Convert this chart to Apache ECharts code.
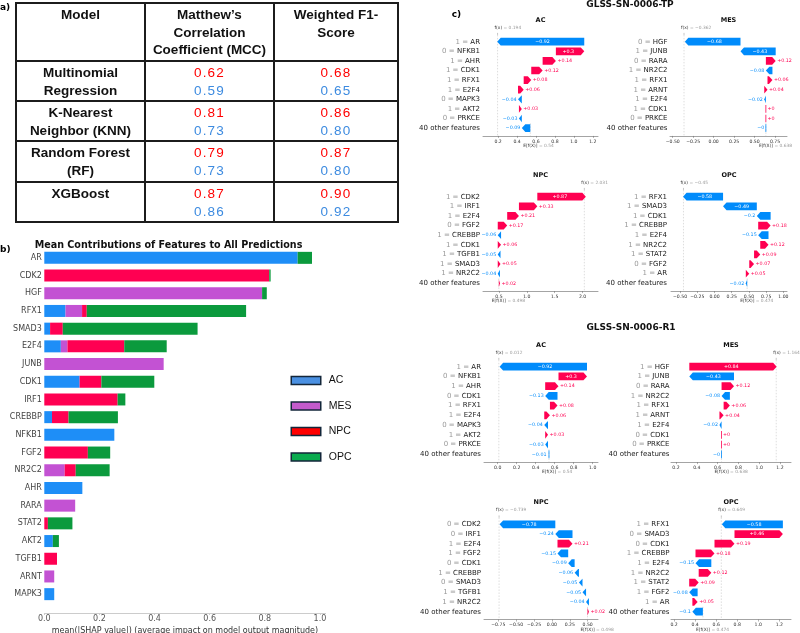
<!DOCTYPE html>
<html>
<head>
<meta charset="utf-8">
<script src="https://cdn.jsdelivr.net/npm/echarts@6/dist/echarts.min.js"></script>
<style>
html, body { margin: 0; padding: 0; background: #fff; }
#chart { position: absolute; left: 0; top: 0; width: 800px; height: 633px; }
#tbl { position: absolute; left: 15px; top: 2px; border-collapse: collapse; table-layout: fixed;
  font-family: "Liberation Sans", Arial, sans-serif; font-size: 13.5px; line-height: 17.5px; color: #111; }
#tbl td { border: 2px solid #1c1c1c; text-align: center; vertical-align: top; padding: 2px 2px 0 2px; }
#tbl .b { font-weight: bold; }
#tbl .r { color: #ff0000; letter-spacing: 1.2px; }
#tbl .u { color: #3d8be0; letter-spacing: 1.2px; }
</style>
</head>
<body>
<div id="chart"></div>
<table id="tbl"></table>
<script>
// ---- panel a: model scores (red / blue rows) ----
const models = [['Multinomial', 'Regression'], ['K-Nearest', 'Neighbor (KNN)'], ['Random Forest', '(RF)'], ['XGBoost']];
const mccRed = [0.62, 0.81, 0.79, 0.87];
const mccBlue = [0.59, 0.73, 0.73, 0.86];
const f1Red = [0.68, 0.86, 0.87, 0.90];
const f1Blue = [0.65, 0.80, 0.80, 0.92];

// ---- panel b: mean |SHAP| per class ----
const featNames = ['AR', 'CDK2', 'HGF', 'RFX1', 'SMAD3', 'E2F4', 'JUNB', 'CDK1', 'IRF1', 'CREBBP',
  'NFKB1', 'FGF2', 'NR2C2', 'AHR', 'RARA', 'STAT2', 'AKT2', 'TGFB1', 'ARNT', 'MAPK3'];
const acMean  = [0.919, 0, 0, 0.077, 0.021, 0.060, 0, 0.128, 0, 0.028, 0.254, 0, 0, 0.138, 0, 0, 0.031, 0, 0, 0.036];
const mesMean = [0, 0, 0.790, 0.060, 0, 0.024, 0.433, 0, 0, 0, 0, 0, 0.074, 0, 0.112, 0, 0, 0, 0.036, 0];
const npcMean = [0, 0.816, 0, 0.017, 0.046, 0.206, 0, 0.079, 0.266, 0.060, 0, 0.158, 0.040, 0, 0, 0.013, 0, 0.046, 0, 0];
const opcMean = [0.052, 0.005, 0.017, 0.578, 0.489, 0.154, 0, 0.192, 0.028, 0.179, 0, 0.081, 0.123, 0, 0, 0.089, 0.022, 0, 0, 0];
const bTicks = [0, 0.2, 0.4, 0.6, 0.8, 1.0];

// ---- panel c: waterfall plots ----
const tpAcNames = ['AR', 'NFKB1', 'AHR', 'CDK1', 'RFX1', 'E2F4', 'MAPK3', 'AKT2', 'PRKCE', '40 other features'];
const tpAcVals = ['1', '0', '1', '1', '1', '1', '0', '1', '0', ''];
const tpAcShap = [-0.92, 0.3, 0.14, 0.12, 0.08, 0.06, -0.04, 0.03, -0.03, -0.09];
const tpAcBase = 0.54, tpAcFx = 0.194;
const tpAcTicks = [0.2, 0.4, 0.6, 0.8, 1.0, 1.2];

const tpMesNames = ['HGF', 'JUNB', 'RARA', 'NR2C2', 'RFX1', 'ARNT', 'E2F4', 'CDK1', 'PRKCE', '40 other features'];
const tpMesVals = ['0', '1', '0', '1', '1', '1', '1', '1', '0', ''];
const tpMesShap = [-0.68, -0.43, 0.12, -0.08, 0.06, 0.04, -0.02, 0, 0, -0];
const tpMesBase = 0.638, tpMesFx = -0.362;
const tpMesTicks = [-0.5, -0.25, 0, 0.25, 0.5, 0.75];

const tpNpcNames = ['CDK2', 'IRF1', 'E2F4', 'FGF2', 'CREBBP', 'CDK1', 'TGFB1', 'SMAD3', 'NR2C2', '40 other features'];
const tpNpcVals = ['1', '1', '1', '0', '1', '1', '1', '1', '1', ''];
const tpNpcShap = [0.87, 0.33, 0.21, 0.17, -0.06, 0.06, -0.05, 0.05, -0.04, 0.02];
const tpNpcBase = 0.498, tpNpcFx = 2.031;
const tpNpcTicks = [0.5, 1.0, 1.5, 2.0];

const tpOpcNames = ['RFX1', 'SMAD3', 'CDK1', 'CREBBP', 'E2F4', 'NR2C2', 'STAT2', 'FGF2', 'AR', '40 other features'];
const tpOpcVals = ['1', '1', '1', '1', '1', '1', '1', '0', '1', ''];
const tpOpcShap = [-0.58, -0.49, -0.2, 0.18, -0.15, 0.12, 0.09, 0.07, 0.05, -0.02];
const tpOpcBase = 0.474, tpOpcFx = -0.45;
const tpOpcTicks = [-0.5, -0.25, 0, 0.25, 0.5, 0.75, 1.0];

const r1AcNames = ['AR', 'NFKB1', 'AHR', 'CDK1', 'RFX1', 'E2F4', 'MAPK3', 'AKT2', 'PRKCE', '40 other features'];
const r1AcVals = ['1', '0', '1', '0', '1', '1', '0', '1', '0', ''];
const r1AcShap = [-0.92, 0.3, 0.14, -0.13, 0.08, 0.06, -0.04, 0.03, -0.03, -0.01];
const r1AcBase = 0.54, r1AcFx = 0.012;
const r1AcTicks = [0, 0.2, 0.4, 0.6, 0.8, 1.0];

const r1MesNames = ['HGF', 'JUNB', 'RARA', 'NR2C2', 'RFX1', 'ARNT', 'E2F4', 'CDK1', 'PRKCE', '40 other features'];
const r1MesVals = ['1', '1', '0', '1', '1', '1', '1', '0', '0', ''];
const r1MesShap = [0.84, -0.43, 0.12, -0.08, 0.06, 0.04, -0.02, 0, 0, -0];
const r1MesBase = 0.638, r1MesFx = 1.164;
const r1MesTicks = [0.2, 0.4, 0.6, 0.8, 1.0, 1.2];

const r1NpcNames = ['CDK2', 'IRF1', 'E2F4', 'FGF2', 'CDK1', 'CREBBP', 'SMAD3', 'TGFB1', 'NR2C2', '40 other features'];
const r1NpcVals = ['0', '0', '1', '1', '0', '1', '0', '1', '1', ''];
const r1NpcShap = [-0.78, -0.24, 0.21, -0.15, -0.09, -0.06, -0.05, -0.05, -0.04, 0.02];
const r1NpcBase = 0.498, r1NpcFx = -0.739;
const r1NpcTicks = [-0.75, -0.5, -0.25, 0, 0.25, 0.5];

const r1OpcNames = ['RFX1', 'SMAD3', 'CDK1', 'CREBBP', 'E2F4', 'NR2C2', 'STAT2', 'FGF2', 'AR', '40 other features'];
const r1OpcVals = ['1', '0', '0', '1', '1', '1', '1', '1', '1', ''];
const r1OpcShap = [-0.58, 0.46, 0.19, 0.18, -0.15, 0.12, 0.09, -0.08, 0.05, -0.1];
const r1OpcBase = 0.474, r1OpcFx = 0.649;
const r1OpcTicks = [0.2, 0.4, 0.6, 0.8, 1.0, 1.2];

const subTitles = ['AC', 'MES', 'NPC', 'OPC', 'AC', 'MES', 'NPC', 'OPC'];

// build the table
(function () {
  let h = '<colgroup><col style="width:129px"><col style="width:129px"><col style="width:124px"></colgroup>';
  h += '<tr style="height:58px"><td class="b">Model</td><td class="b">Matthew’s<br>Correlation<br>Coefficient (MCC)</td><td class="b">Weighted F1-<br>Score</td></tr>';
  const rowH = [40, 40, 41, 40];
  for (let i = 0; i < models.length; i++) {
    h += '<tr style="height:' + rowH[i] + 'px"><td class="b">' + models[i].join('<br>') + '</td>' +
      '<td><span class="r">' + mccRed[i].toFixed(2) + '</span><br><span class="u">' + mccBlue[i].toFixed(2) + '</span></td>' +
      '<td><span class="r">' + f1Red[i].toFixed(2) + '</span><br><span class="u">' + f1Blue[i].toFixed(2) + '</span></td></tr>';
  }
  document.getElementById('tbl').innerHTML = h;
})();

const RED = '#ff0051', BLUE = '#008bfb';
const DV = 'DejaVu Sans';
const HEAD = 3.5, VAL_FS = 4.8, AXIS_OFF = 3;

const wfPanels = [
  { names: tpAcNames, vals: tpAcVals, shap: tpAcShap, base: tpAcBase, fx: tpAcFx, ticks: tpAcTicks, dec: 1 },
  { names: tpMesNames, vals: tpMesVals, shap: tpMesShap, base: tpMesBase, fx: tpMesFx, ticks: tpMesTicks, dec: 2 },
  { names: tpNpcNames, vals: tpNpcVals, shap: tpNpcShap, base: tpNpcBase, fx: tpNpcFx, ticks: tpNpcTicks, dec: 1 },
  { names: tpOpcNames, vals: tpOpcVals, shap: tpOpcShap, base: tpOpcBase, fx: tpOpcFx, ticks: tpOpcTicks, dec: 2 },
  { names: r1AcNames, vals: r1AcVals, shap: r1AcShap, base: r1AcBase, fx: r1AcFx, ticks: r1AcTicks, dec: 1 },
  { names: r1MesNames, vals: r1MesVals, shap: r1MesShap, base: r1MesBase, fx: r1MesFx, ticks: r1MesTicks, dec: 1 },
  { names: r1NpcNames, vals: r1NpcVals, shap: r1NpcShap, base: r1NpcBase, fx: r1NpcFx, ticks: r1NpcTicks, dec: 2 },
  { names: r1OpcNames, vals: r1OpcVals, shap: r1OpcShap, base: r1OpcBase, fx: r1OpcFx, ticks: r1OpcTicks, dec: 1 }
];
// where each waterfall sits on the page (px) and its x range
const wfLayout = [
  { x0: 483, x1: 598, min: 0.04, max: 1.255, y0: 41.7, band: 9.6, lx: 480 },
  { x0: 670, x1: 787, min: -0.533, max: 0.896, y0: 41.7, band: 9.6, lx: 667.5 },
  { x0: 483, x1: 598, min: 0.214, max: 2.276, y0: 196.7, band: 9.62, lx: 480 },
  { x0: 671, x1: 787, min: -0.631, max: 1.052, y0: 196.7, band: 9.62, lx: 667 },
  { x0: 484, x1: 598, min: -0.144, max: 1.056, y0: 366.7, band: 9.73, lx: 481 },
  { x0: 671, x1: 791, min: 0.152, max: 1.306, y0: 366.7, band: 9.73, lx: 669.5 },
  { x0: 484, x1: 598, min: -0.95, max: 0.645, y0: 524.3, band: 9.71, lx: 481 },
  { x0: 671, x1: 791, min: 0.171, max: 1.311, y0: 524.3, band: 9.71, lx: 669.5 }
];

function fmtShap(v) {
  const neg = v < 0 || Object.is(v, -0);
  const s = Math.abs(v).toFixed(2).replace(/0+$/, '').replace(/\.$/, '');
  return (neg ? '\u2212' : '+') + s;
}
function fmt3(v) {
  return (v < 0 ? '\u2212' : '') + Math.abs(v).toFixed(3).replace(/0+$/, '').replace(/\.$/, '');
}

function makeArrowRender(shap) {
  return function (params, api) {
    const row = api.value(2);
    const v = shap[row];
    const neg = v < 0 || Object.is(v, -0);
    const p0 = api.coord([api.value(0), row]);
    const p1 = api.coord([api.value(1), row]);
    const band = api.size([0, 1])[1];
    const h = band * 0.8, y = p0[1];
    const len = Math.abs(p1[0] - p0[0]);
    const dir = neg ? -1 : 1;
    const color = neg ? BLUE : RED;
    const txt = fmtShap(v);
    const head = Math.min(HEAD, len);
    const children = [];
    if (len < 1) {
      children.push({ type: 'rect', shape: { x: p0[0] - 0.4, y: y - h / 2, width: 0.8, height: h }, style: { fill: color } });
    } else {
      const xb = p1[0] - dir * head;
      children.push({ type: 'polygon', shape: { points: [[p0[0], y - h / 2], [xb, y - h / 2], [p1[0], y], [xb, y + h / 2], [p0[0], y + h / 2]] }, style: { fill: color } });
    }
    const tw = txt.length * VAL_FS * 0.62;
    if (len - head > tw + 2) {
      children.push({ type: 'text', style: { x: (p0[0] + p1[0] - dir * head) / 2, y: y, text: txt, fill: '#fff', align: 'center', verticalAlign: 'middle', fontSize: VAL_FS, fontFamily: DV } });
    } else {
      children.push({ type: 'text', style: { x: p1[0] + dir * 1.5, y: y, text: txt, fill: color, align: neg ? 'right' : 'left', verticalAlign: 'middle', fontSize: VAL_FS, fontFamily: DV } });
    }
    return { type: 'group', children: children };
  };
}

function makeNoteRender(p) {
  return function (params, api) {
    const n = p.names.length;
    const band = api.size([0, 1])[1];
    const pb = api.coord([p.base, n - 1]);
    const pt = api.coord([p.fx, 0]);
    const axisY = pb[1] + band / 2 + AXIS_OFF;
    const topY = pt[1] - band / 2 - 2;
    const dash = { stroke: '#bbb', lineWidth: 0.5, lineDash: [1.5, 1.5] };
    const rich = {
      a: { fontSize: 4.4, fontFamily: DV, fill: '#333' },
      b: { fontSize: 4.4, fontFamily: DV, fill: '#999' }
    };
    return { type: 'group', children: [
      { type: 'line', shape: { x1: pt[0], y1: topY, x2: pt[0], y2: axisY }, style: dash },
      { type: 'line', shape: { x1: pb[0], y1: pb[1] - band / 2, x2: pb[0], y2: axisY }, style: dash },
      { type: 'line', shape: { x1: pt[0], y1: topY, x2: pt[0], y2: topY - 2 }, style: { stroke: '#888', lineWidth: 0.5 } },
      { type: 'text', style: { x: pt[0] - 3, y: pt[1] - 14, text: '{a|f(x)}{b| = ' + fmt3(p.fx) + '}', rich: rich, align: 'left', verticalAlign: 'middle' } },
      { type: 'text', style: { x: pb[0] - 7, y: axisY + 10, text: '{a|E[f(X)]}{b| = ' + fmt3(p.base) + '}', rich: rich, align: 'left', verticalAlign: 'middle' } }
    ] };
  };
}

const grids = [{ left: 44.3, top: 249, width: 281.2, height: 354, outerBoundsMode: 'none' }];
const xAxes = [{
  gridIndex: 0, type: 'value', min: 0, max: 1.02, offset: 10,
  name: 'mean(|SHAP value|) (average impact on model output magnitude)',
  nameLocation: 'middle', nameGap: 9,
  nameTextStyle: { fontSize: 8, color: '#333', fontFamily: DV },
  axisLine: { show: true, lineStyle: { color: '#ccc', width: 1 } },
  axisTick: { show: true, length: 2, customValues: bTicks, lineStyle: { color: '#ccc' } },
  axisLabel: { customValues: bTicks, formatter: v => v.toFixed(1), fontSize: 8, color: '#555', margin: 1.5, fontFamily: DV },
  splitLine: { show: false }
}];
const yAxes = [{
  gridIndex: 0, type: 'category', data: featNames, inverse: true,
  axisLine: { show: false }, axisTick: { show: false }, splitLine: { show: false },
  axisLabel: { interval: 0, fontSize: 8, color: '#444', margin: 2.5, fontFamily: DV }
}];

const bColors = ['#1e8ef7', '#c352d3', '#ff0052', '#0b9a3d'];
const series = [
  { name: 'AC', data: acMean },
  { name: 'MES', data: mesMean },
  { name: 'NPC', data: npcMean },
  { name: 'OPC', data: opcMean }
].map((s, i) => ({
  name: s.name, type: 'bar', stack: 'total', xAxisIndex: 0, yAxisIndex: 0,
  barWidth: 12, data: s.data, itemStyle: { color: bColors[i] }
}));

const graphics = [
  { type: 'text', left: 0, top: 3, style: { text: 'a)', fontSize: 9, fontWeight: 'bold', fontFamily: DV, fill: '#000' } },
  { type: 'text', left: 0, top: 245, style: { text: 'b)', fontSize: 9, fontWeight: 'bold', fontFamily: DV, fill: '#000' } },
  { type: 'text', x: 456.5, y: 15, style: { text: 'c)', fontSize: 9, fontWeight: 'bold', fontFamily: DV, fill: '#000', align: 'center', verticalAlign: 'middle' } },
  { type: 'text', x: 168.5, y: 245, style: { text: 'Mean Contributions of Features to All Predictions', fontSize: 9.6, fontWeight: 'bold', fontFamily: DV, fill: '#111', align: 'center', verticalAlign: 'middle' } },
  { type: 'text', x: 630, y: 5, style: { text: 'GLSS-SN-0006-TP', fontSize: 9, fontWeight: 'bold', fontFamily: DV, fill: '#111', align: 'center', verticalAlign: 'middle' } },
  { type: 'text', x: 631, y: 328, style: { text: 'GLSS-SN-0006-R1', fontSize: 9, fontWeight: 'bold', fontFamily: DV, fill: '#111', align: 'center', verticalAlign: 'middle' } }
];

wfPanels.forEach((p, i) => {
  const L = wfLayout[i];
  const gi = i + 1;
  grids.push({ left: L.x0, top: L.y0 - L.band / 2, width: L.x1 - L.x0, height: L.band * p.names.length, outerBoundsMode: 'none' });
  xAxes.push({
    gridIndex: gi, type: 'value', min: L.min, max: L.max, offset: AXIS_OFF,
    axisLine: { show: true, lineStyle: { color: '#666', width: 0.6 } },
    axisTick: { show: true, length: 2, customValues: p.ticks, lineStyle: { color: '#666', width: 0.5 } },
    axisLabel: { customValues: p.ticks, formatter: v => (v < 0 ? '\u2212' : '') + Math.abs(v).toFixed(p.dec), fontSize: 4.6, color: '#333', margin: 3, fontFamily: DV },
    splitLine: { show: false }
  });
  yAxes.push({
    gridIndex: gi, type: 'category', data: p.names, inverse: true,
    axisLine: { show: false }, axisTick: { show: false }, splitLine: { show: false },
    axisLabel: {
      interval: 0, margin: L.x0 - L.lx,
      formatter: (val, idx) => p.vals[idx] ? '{v|' + p.vals[idx] + ' = }{n|' + val + '}' : '{n|' + val + '}',
      rich: {
        v: { fontSize: 7, color: '#999', fontFamily: DV },
        n: { fontSize: 7, color: '#1a1a1a', fontFamily: DV }
      }
    }
  });
  // running position from base value, bottom row upward
  const n = p.shap.length;
  const rows = new Array(n);
  let pos = p.base;
  for (let j = n - 1; j >= 0; j--) {
    rows[j] = [pos, pos + p.shap[j], j];
    pos += p.shap[j];
  }
  series.push({
    type: 'custom', xAxisIndex: gi, yAxisIndex: gi, z: 1,
    renderItem: makeNoteRender(p), data: [[p.base, p.fx, 0]], encode: { x: [0, 1], y: 2 }, silent: true
  });
  series.push({
    type: 'custom', xAxisIndex: gi, yAxisIndex: gi, z: 2,
    renderItem: makeArrowRender(p.shap), data: rows, encode: { x: [0, 1], y: 2 }, silent: true
  });
  graphics.push({ type: 'text', x: (L.x0 + L.x1) / 2, y: L.y0 - 21.7, style: { text: subTitles[i], fontSize: 6.5, fontWeight: 'bold', fontFamily: DV, fill: '#111', align: 'center', verticalAlign: 'middle' } });
});

const chart = echarts.init(document.getElementById('chart'), null, { renderer: 'canvas', width: 800, height: 633 });
chart.setOption({
  backgroundColor: '#fff',
  animation: false,
  grid: grids,
  xAxis: xAxes,
  yAxis: yAxes,
  legend: {
    orient: 'vertical', left: 285.5, top: 369.5,
    itemWidth: 29.5, itemHeight: 8, itemGap: 13.5, icon: 'rect',
    textStyle: { fontSize: 10.5, lineHeight: 12, color: '#111', fontFamily: 'Liberation Sans', padding: [0, 0, 0, 3] },
    data: [
      { name: 'AC', itemStyle: { color: '#4a90e2', borderColor: '#13263a', borderWidth: 1.5 } },
      { name: 'MES', itemStyle: { color: '#c35bcc', borderColor: '#13263a', borderWidth: 1.5 } },
      { name: 'NPC', itemStyle: { color: '#ff0000', borderColor: '#13263a', borderWidth: 1.5 } },
      { name: 'OPC', itemStyle: { color: '#0aab4f', borderColor: '#13263a', borderWidth: 1.5 } }
    ]
  },
  graphic: graphics,
  series: series
});
</script>
</body>
</html>
